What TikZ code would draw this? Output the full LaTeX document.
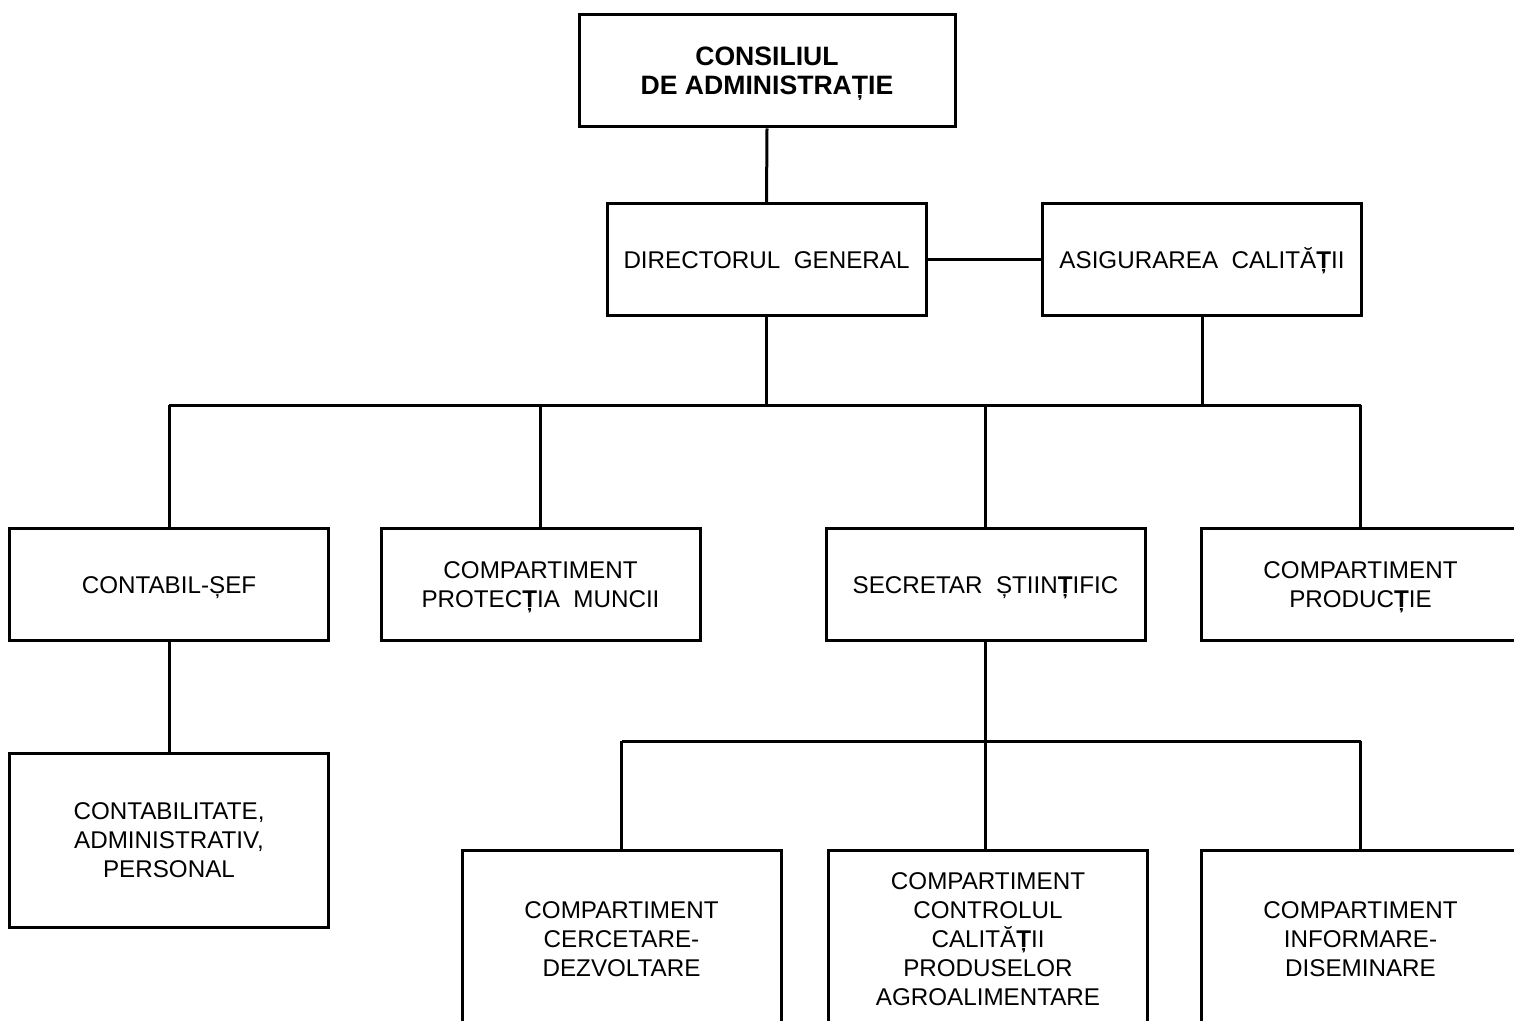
\documentclass[tikz,border=0pt]{standalone}
\usepackage{fontspec}
\setmainfont{Liberation Sans}
\newcommand{\bT}{{\bfseries Ț}}
\begin{document}
\begin{tikzpicture}[x=0.5pt,y=-0.5pt,
  orgbox/.style={draw, line width=1.5pt, minimum width=159.5pt, minimum height=56pt,
    align=center, inner sep=0pt, text depth=-2.4pt, font=\fontsize{12.1}{14.5}\selectfont},
  oneline/.style={orgbox, text height=8.7pt},
  tallbox/.style={orgbox, minimum height=89pt},
  link/.style={line width=1.5pt}]
\clip (0,0) rectangle (1514,1021);
\fill[white] (0,0) rectangle (1514,1021);
% top
\node[orgbox, minimum width=188pt, font=\fontsize{13.3}{14.5}\selectfont\bfseries] (cons) at (767,71) {CONSILIUL\\DE ADMINISTRAȚIE};
\node[oneline] (dir) at (766.5,260) {DIRECTORUL\ \ GENERAL};
\node[oneline] (asig) at (1202,260) {ASIGURAREA\ \ CALITĂ\bT II};
% level 2
\node[oneline] (cont) at (169,584.5) {CONTABIL-ȘEF};
\node[orgbox] (prot) at (540.5,584.5) {COMPARTIMENT\\PROTEC\bT IA\ \ MUNCII};
\node[oneline] (secr) at (985.5,584.5) {SECRETAR\ \ ȘTIIN\bT IFIC};
\node[orgbox] (prod) at (1360.5,584.5) {COMPARTIMENT\\PRODUC\bT IE};
% level 3
\node[orgbox, minimum height=87pt] (ctb) at (169,840) {CONTABILITATE,\\ADMINISTRATIV,\\PERSONAL};
\node[tallbox] (cerc) at (621.5,939) {COMPARTIMENT\\CERCETARE-\\DEZVOLTARE};
\node[tallbox] (ctrl) at (988,939) {COMPARTIMENT\\CONTROLUL\\CALITĂ\bT II\\PRODUSELOR\\AGROALIMENTARE};
\node[tallbox] (info) at (1360.5,939) {COMPARTIMENT\\INFORMARE-\\DISEMINARE};
% bus coordinates
\coordinate (busA) at (0,405);
\coordinate (busB) at (0,741);
% connectors
\draw[link] (cons.south) -- (dir.north);
\draw[link] (dir.east) -- (asig.west);
\draw[link] (dir.south) -- (dir.south |- busA);
\draw[link] (asig.south) -- (asig.south |- busA);
\draw[link] (cont.north |- busA) -- (prod.north |- busA);
\draw[link] (cont.north |- busA) -- (cont.north);
\draw[link] (prot.north |- busA) -- (prot.north);
\draw[link] (secr.north |- busA) -- (secr.north);
\draw[link] (prod.north |- busA) -- (prod.north);
\draw[link] (cont.south) -- (ctb.north);
\draw[link] (secr.south) -- (secr.south |- busB);
\draw[link] (cerc.north |- busB) -- (info.north |- busB);
\draw[link] (cerc.north |- busB) -- (cerc.north);
\draw[link] (secr.south |- busB) -- (secr.south |- ctrl.north);
\draw[link] (info.north |- busB) -- (info.north);
\end{tikzpicture}
\end{document}
